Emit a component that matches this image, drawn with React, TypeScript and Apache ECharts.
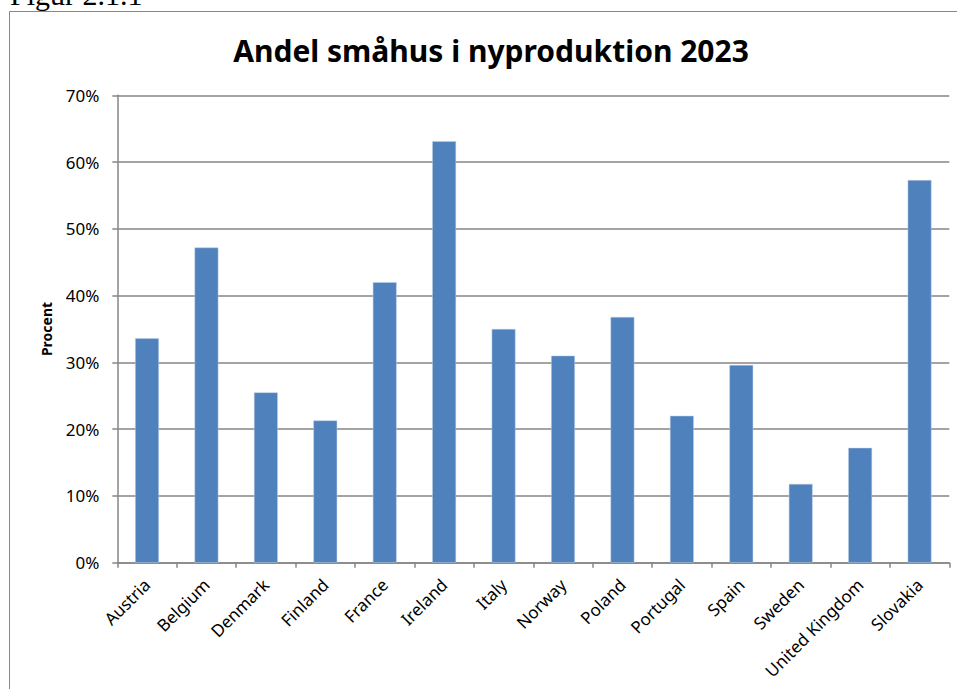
import React, { useEffect, useRef } from "react";
import * as echarts from "echarts";

const countries = [
  "Austria", "Belgium", "Denmark", "Finland", "France", "Ireland", "Italy",
  "Norway", "Poland", "Portugal", "Spain", "Sweden", "United Kingdom", "Slovakia",
];
const shares = [33.6, 47.2, 25.5, 21.3, 42.0, 63.1, 35.0, 31.0, 36.8, 22.0, 29.6, 11.8, 17.2, 57.3];
const titleText = "Andel småhus i nyproduktion 2023";
const yName = "Procent";
const figText = "Figur 2.1.1";

export default function App() {
  const ref = useRef<HTMLDivElement>(null);
  useEffect(() => {
    if (!ref.current) return;
    const chart = echarts.init(ref.current, null, { renderer: "svg" });
    const font = "'Noto Sans', 'Open Sans', sans-serif";
    chart.setOption({
      animation: false,
      backgroundColor: "#fff",
      title: {
        text: titleText,
        left: 486,
        textAlign: "center",
        top: 30,
        textStyle: { fontFamily: font, fontSize: 30, fontWeight: "bold", color: "#000" },
      },
      graphic: [
        {
          type: "rect",
          shape: { x: 9.5, y: 11.5, width: 1200, height: 1200 },
          style: { fill: "none", stroke: "#888", lineWidth: 1 },
          silent: true,
        },
        {
          type: "text",
          x: 10,
          y: -6,
          style: {
            text: figText,
            font: "30px 'Liberation Serif', 'DejaVu Serif', serif",
            fill: "#000",
            textVerticalAlign: "middle",
          },
          silent: true,
        },
      ],
      grid: { left: 117.3, right: 7.7, top: 95.3, bottom: 126.3, containLabel: false },
      xAxis: {
        type: "category",
        data: countries,
        boundaryGap: true,
        axisLine: { lineStyle: { color: "#868686", width: 1.5 } },
        axisTick: { show: true, length: 5, alignWithLabel: false, lineStyle: { color: "#868686", width: 1.5 } },
        axisLabel: {
          rotate: 45,
          interval: 0,
          margin: 19,
          color: "#000",
          fontFamily: font,
          fontSize: 17,
        },
      },
      yAxis: {
        type: "value",
        min: 0,
        max: 70,
        interval: 10,
        name: yName,
        nameLocation: "middle",
        nameGap: 64,
        nameTextStyle: { fontFamily: font, fontSize: 14, fontWeight: "bold", color: "#000" },
        axisLine: { show: true, lineStyle: { color: "#868686", width: 1.5 } },
        axisTick: { show: true, length: 5, lineStyle: { color: "#868686", width: 1.5 } },
        axisLabel: {
          formatter: "{value}%",
          margin: 18,
          color: "#000",
          fontFamily: font,
          fontSize: 17,
        },
        splitLine: { show: true, lineStyle: { color: "#868686", width: 1.5 } },
      },
      series: [
        {
          type: "bar",
          data: shares,
          barCategoryGap: "60%",
          itemStyle: { color: "#4F81BD", borderColor: "#B9CDE5", borderWidth: 0.5 },
        },
      ],
    });
    return () => chart.dispose();
  }, []);
  return (
    <div
      ref={ref}
      style={{ position: "absolute", left: 0, top: 0, width: 957, height: 689 }}
    />
  );
}
